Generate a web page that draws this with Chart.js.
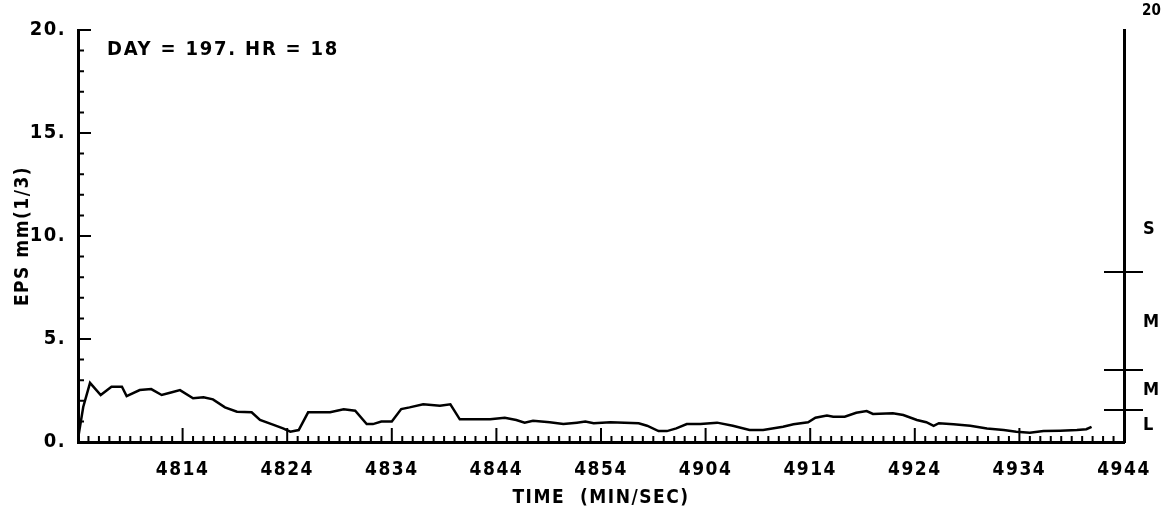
<!DOCTYPE html>
<html>
<head>
<meta charset="utf-8">
<title>EPS record</title>
<script src="https://cdn.jsdelivr.net/npm/chart.js@4.4.1/dist/chart.umd.min.js"></script>
<style>
  html, body { margin: 0; padding: 0; background: #fff; }
  canvas { display: block; }
</style>
</head>
<body>
<canvas id="epsChart" width="1171" height="515"></canvas>
<script>
// seconds elapsed since 48:04
const times = [0, 0.5, 1.15, 2.17, 3.2, 4.2, 4.65, 5.9, 7.0, 8.0, 8.8, 9.75, 11.0, 12.0, 12.9,
  14.05, 15.2, 16.6, 17.4, 18.7, 19.6, 20.3, 21.1, 22.0, 24.1, 25.4, 26.5, 27.6, 28.2, 29.0,
  30.0, 30.9, 31.7, 33.0, 34.6, 35.6, 36.5, 37.8, 39.4, 40.8, 41.9, 42.7, 43.5, 45.1, 46.4,
  47.7, 48.5, 49.3, 50.9, 53.6, 54.4, 55.5, 56.3, 57.2, 58.2, 59.5, 61.1, 62.6, 64.2, 65.5,
  67.4, 68.4, 69.8, 70.5, 71.6, 72.2, 73.3, 74.4, 75.4, 76.0, 77.9, 78.9, 80.2, 81.1, 81.8,
  82.3, 83.7, 85.3, 86.9, 88.5, 89.7, 91.0, 92.3, 93.9, 95.5, 96.4, 96.9];
const eps = [0.15, 1.7, 2.87, 2.28, 2.68, 2.68, 2.23, 2.52, 2.57, 2.28, 2.39, 2.52, 2.12, 2.17, 2.07,
  1.68, 1.47, 1.44, 1.07, 0.83, 0.66, 0.50, 0.58, 1.44, 1.44, 1.59, 1.52, 0.87, 0.87, 0.99,
  0.99, 1.60, 1.68, 1.83, 1.76, 1.83, 1.10, 1.10, 1.10, 1.18, 1.07, 0.94, 1.03, 0.96, 0.87,
  0.94, 0.99, 0.91, 0.96, 0.91, 0.79, 0.53, 0.53, 0.66, 0.87, 0.87, 0.94, 0.79, 0.58, 0.58,
  0.74, 0.86, 0.96, 1.18, 1.28, 1.23, 1.23, 1.42, 1.50, 1.36, 1.39, 1.31, 1.07, 0.96, 0.78,
  0.91, 0.86, 0.79, 0.66, 0.58, 0.50, 0.45, 0.53, 0.55, 0.58, 0.62, 0.74];

// labels at every 10 s (MMSS)
const timeLabels = ['4814', '4824', '4834', '4844', '4854', '4904', '4914', '4924', '4934', '4944'];

// sea-state bands on the right-hand scale
const bandLimits = [1.55, 3.5, 8.25];
const bandNames = ['L', 'M', 'M', 'S'];
const bandCentres = [0.8, 2.5, 5.8, 10.3];

const header = 'DAY = 197. HR = 18';
const FONT = '"DejaVu Sans Condensed", "DejaVu Sans", sans-serif';

// tick marks point into the plot, like a pen plotter frame
const plotterFrame = {
  id: 'plotterFrame',
  beforeDraw(chart) {
    // wide plotter lettering for every label
    chart.ctx.letterSpacing = '1.5px';
  },
  afterDraw(chart) {
    const {ctx, chartArea: a, scales: {x, y, y2}} = chart;
    ctx.save();
    ctx.strokeStyle = '#000';
    ctx.fillStyle = '#000';
    ctx.lineWidth = 2;
    ctx.beginPath();
    for (let s = 0; s <= 100; s++) {
      const px = x.getPixelForValue(s);
      const len = s % 10 === 0 ? 14 : 6;
      ctx.moveTo(px, a.bottom);
      ctx.lineTo(px, a.bottom - len);
    }
    for (let v = 0; v <= 20; v++) {
      const py = y.getPixelForValue(v);
      const len = v % 5 === 0 ? 13 : 6;
      ctx.moveTo(a.left, py);
      ctx.lineTo(a.left + len, py);
    }
    bandLimits.forEach(v => {
      const py = y2.getPixelForValue(v);
      ctx.moveTo(a.right - 20, py);
      ctx.lineTo(a.right + 19, py);
    });
    ctx.stroke();

    ctx.textAlign = 'left';
    ctx.textBaseline = 'middle';
    ctx.letterSpacing = '0px';
    ctx.font = 'bold 18px ' + FONT;
    bandNames.forEach((n, i) => ctx.fillText(n, a.right + 19, y2.getPixelForValue(bandCentres[i])));
    ctx.font = 'bold 15px ' + FONT;
    ctx.fillText('20', a.right + 18, a.top - 19);

    ctx.letterSpacing = '1.8px';
    ctx.font = 'bold 20px ' + FONT;
    ctx.fillText(header, a.left + 29, a.top + 20);
    ctx.restore();
  }
};

new Chart(document.getElementById('epsChart'), {
  type: 'line',
  data: {
    datasets: [{
      data: times.map((t, i) => ({x: t, y: eps[i]})),
      borderColor: '#000',
      borderWidth: 2.5,
      pointRadius: 0,
      tension: 0,
      fill: false,
      yAxisID: 'y'
    }]
  },
  options: {
    responsive: false,
    animation: false,
    devicePixelRatio: 1,
    layout: {padding: {top: 30, left: 0, right: 0, bottom: 0}},
    plugins: {legend: {display: false}, tooltip: {enabled: false}},
    scales: {
      x: {
        type: 'linear',
        position: 'bottom',
        min: 0,
        max: 100,
        grid: {display: false, drawTicks: false},
        border: {display: true, color: '#000', width: 3},
        ticks: {
          stepSize: 10,
          autoSkip: false,
          maxRotation: 0,
          padding: 17,
          color: '#000',
          font: {family: FONT, size: 19, weight: 'bold'},
          callback: v => (v === 0 ? '' : timeLabels[v / 10 - 1])
        },
        title: {
          display: true,
          text: 'TIME  (MIN/SEC)',
          color: '#000',
          font: {family: FONT, size: 19, weight: 'bold'},
          padding: {top: 0, bottom: 6}
        },
        afterFit: s => { s.height = 73; }
      },
      y: {
        position: 'left',
        min: 0,
        max: 20,
        grid: {display: false, drawTicks: false},
        border: {display: true, color: '#000', width: 3},
        ticks: {
          stepSize: 5,
          padding: 12,
          color: '#000',
          font: {family: FONT, size: 20, weight: 'bold'},
          callback: v => v + '.'
        },
        title: {
          display: true,
          text: 'EPS mm(1/3)',
          color: '#000',
          font: {family: FONT, size: 19, weight: 'bold'},
          padding: {top: 12, bottom: 0}
        },
        afterFit: s => { s.width = 78; }
      },
      y2: {
        position: 'right',
        min: 0,
        max: 20,
        grid: {display: false, drawTicks: false},
        border: {display: true, color: '#000', width: 3},
        ticks: {display: false},
        afterFit: s => { s.width = 47; }
      }
    }
  },
  plugins: [plotterFrame]
});
</script>
</body>
</html>
